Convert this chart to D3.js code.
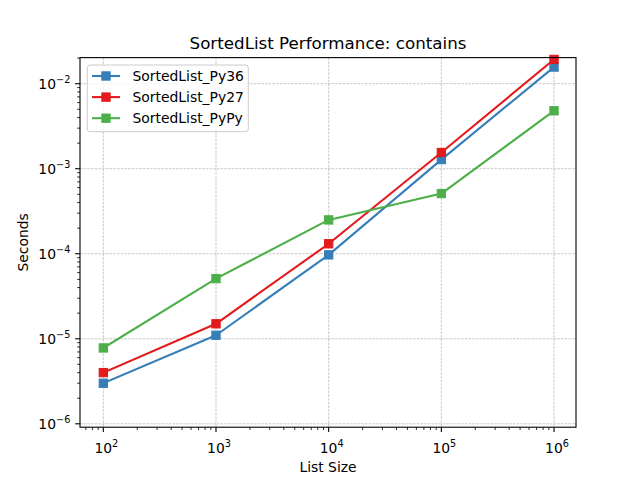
<!DOCTYPE html>
<html>
<head>
<meta charset="utf-8">
<script src="https://cdn.jsdelivr.net/npm/d3@7"></script>
<style>
html,body{margin:0;padding:0;background:#fff;}
svg{display:block;font-family:"DejaVu Sans",sans-serif;}
</style>
</head>
<body>
<svg id="chart" width="640" height="480"></svg>
<script>
const sizes = [100, 1000, 10000, 100000, 1000000];
const seriesNames = ["SortedList_Py36", "SortedList_Py27", "SortedList_PyPy"];
const seriesColors = ["#377eb8", "#e41a1c", "#4daf4a"];
const py36 = [3.0e-6, 1.1e-5, 9.7e-5, 1.28e-3, 1.57e-2];
const py27 = [4.0e-6, 1.5e-5, 1.31e-4, 1.55e-3, 1.93e-2];
const pypy = [7.8e-6, 5.1e-5, 2.5e-4, 5.1e-4, 4.8e-3];
const xTickExps = [2, 3, 4, 5, 6];
const yTickExps = [-6, -5, -4, -3, -2];
const title = "SortedList Performance: contains";
const xLabel = "List Size";
const yLabel = "Seconds";

const seriesValues = [py36, py27, pypy];

const W = 640, H = 480;
const L = 80, R = 576, T = 57.6, B = 427.2;
const svg = d3.select("#chart");

const x = d3.scaleLog().domain([Math.pow(10, 1.793), Math.pow(10, 6.195)]).range([L, R]);
const y = d3.scaleLog().domain([Math.pow(10, -6.04), Math.pow(10, -1.693)]).range([B, T]);

// grid
const g = svg.append("g");
xTickExps.forEach(e => {
  const px = x(Math.pow(10, e));
  g.append("line").attr("x1", px).attr("x2", px).attr("y1", T).attr("y2", B)
    .attr("stroke", "#b0b0b0").attr("stroke-width", 0.7).attr("stroke-dasharray", "2.6,1.1");
});
yTickExps.forEach(e => {
  const py = y(Math.pow(10, e));
  g.append("line").attr("x1", L).attr("x2", R).attr("y1", py).attr("y2", py)
    .attr("stroke", "#b0b0b0").attr("stroke-width", 0.7).attr("stroke-dasharray", "2.6,1.1");
});

// series
const line = d3.line().x((d, i) => x(sizes[i])).y(d => y(d));
seriesValues.forEach((vals, si) => {
  const col = seriesColors[si];
  svg.append("path").datum(vals).attr("d", line).attr("fill", "none")
    .attr("stroke", col).attr("stroke-width", 2.08).attr("stroke-linejoin", "round").attr("stroke-linecap", "square");
  svg.selectAll(null).data(vals).enter().append("rect")
    .attr("x", (d, i) => x(sizes[i]) - 4.17).attr("y", d => y(d) - 4.17)
    .attr("width", 8.33).attr("height", 8.33).attr("fill", col).attr("stroke", col).attr("stroke-width", 1);
});

// axes frame
const ax = svg.append("g");
ax.append("rect").attr("x", L).attr("y", T).attr("width", R - L).attr("height", B - T)
  .attr("fill", "none").attr("stroke", "#000").attr("stroke-width", 1.1);

// minor + major ticks
const [xd0, xd1] = x.domain();
for (let e = 1; e <= 6; e++) {
  for (let m = 1; m <= 9; m++) {
    const v = m * Math.pow(10, e);
    if (v < xd0 || v > xd1) continue;
    const px = x(v);
    const len = m === 1 ? 4.86 : 2.78;
    ax.append("line").attr("x1", px).attr("x2", px).attr("y1", B).attr("y2", B + len)
      .attr("stroke", "#000").attr("stroke-width", m === 1 ? 1.1 : 0.83);
  }
}
const [yd0, yd1] = y.domain();
for (let e = -7; e <= -1; e++) {
  for (let m = 1; m <= 9; m++) {
    const v = m * Math.pow(10, e);
    if (v < yd0 || v > yd1) continue;
    const py = y(v);
    const len = m === 1 ? 4.86 : 2.78;
    ax.append("line").attr("x1", L - len).attr("x2", L).attr("y1", py).attr("y2", py)
      .attr("stroke", "#000").attr("stroke-width", m === 1 ? 1.1 : 0.83);
  }
}

// tick labels
function powLabel(parent, px, py, exp, anchor) {
  const t = parent.append("text").attr("x", px).attr("y", py).attr("text-anchor", anchor)
    .attr("font-size", 13.9).attr("fill", "#000");
  t.append("tspan").text("10");
  t.append("tspan").attr("dy", -6).attr("font-size", 9.7).text(String(exp).replace("-", "\u2212"));
  return t;
}
xTickExps.forEach(e => {
  powLabel(ax, x(Math.pow(10, e)) + 3, 452.5, e, "middle");
});
yTickExps.forEach(e => {
  powLabel(ax, 70.3, y(Math.pow(10, e)) + 5, e, "end");
});

// axis labels
svg.append("text").attr("x", (L + R) / 2).attr("y", 472).attr("text-anchor", "middle")
  .attr("font-size", 13.9).text(xLabel);
svg.append("text").attr("transform", `translate(28,${(T + B) / 2}) rotate(-90)`)
  .attr("text-anchor", "middle").attr("font-size", 13.9).text(yLabel);
svg.append("text").attr("x", (L + R) / 2).attr("y", 49).attr("text-anchor", "middle")
  .attr("font-size", 16.7).text(title);

// legend
const lg = svg.append("g");
lg.append("rect").attr("x", 87.3).attr("y", 65).attr("width", 161).attr("height", 66.7)
  .attr("rx", 2.8).attr("fill", "#fff").attr("fill-opacity", 0.8).attr("stroke", "#cccccc").attr("stroke-width", 1);
seriesNames.forEach((name, i) => {
  const ly = 76 + i * 21.1;
  lg.append("line").attr("x1", 92).attr("x2", 120).attr("y1", ly).attr("y2", ly)
    .attr("stroke", seriesColors[i]).attr("stroke-width", 2.08);
  lg.append("rect").attr("x", 106 - 4.17).attr("y", ly - 4.17).attr("width", 8.33).attr("height", 8.33)
    .attr("fill", seriesColors[i]).attr("stroke", seriesColors[i]).attr("stroke-width", 1);
  lg.append("text").attr("x", 132.5).attr("y", ly + 5).attr("font-size", 13.9).text(name);
});
</script>
</body>
</html>
